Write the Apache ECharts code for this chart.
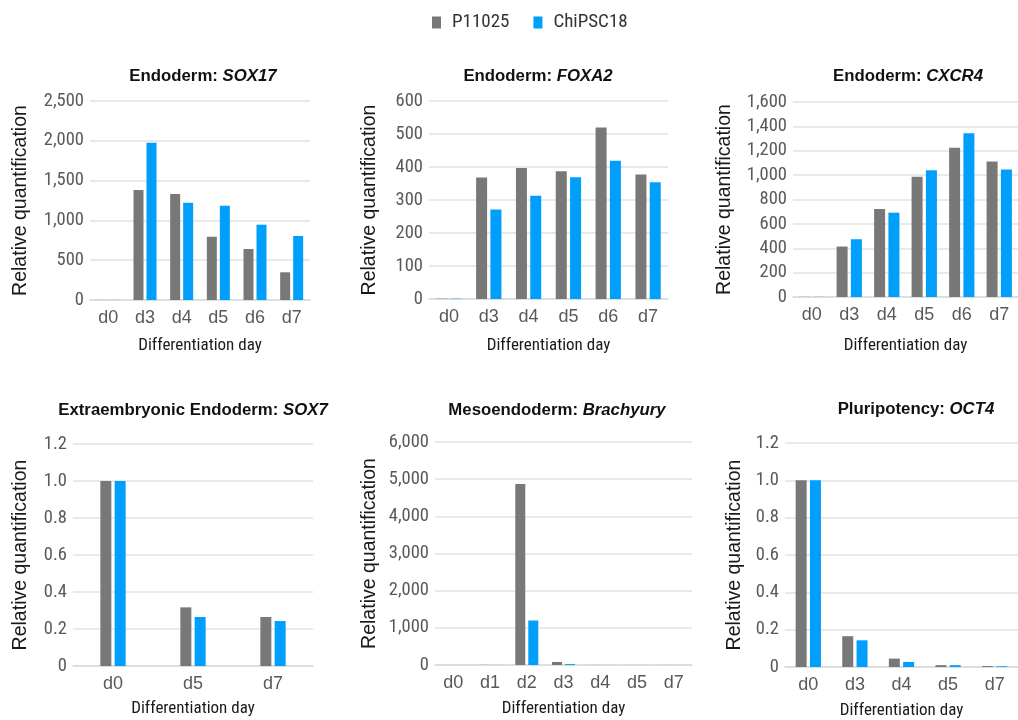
<!DOCTYPE html>
<html>
<head>
<meta charset="utf-8">
<script src="https://cdn.jsdelivr.net/npm/echarts@6/dist/echarts.min.js"></script>
<style>
html,body{margin:0;padding:0;background:#fff;}
#chart{width:1018px;height:720px;}
</style>
</head>
<body>
<div id="chart"></div>
<script>
// ---- data ----
const seriesNames = ['P11025', 'ChiPSC18'];

const sox17Days = ['d0', 'd3', 'd4', 'd5', 'd6', 'd7'];
const sox17P = [1, 1382, 1332, 795, 641, 348];
const sox17C = [1, 1976, 1223, 1185, 946, 804];
const sox17Ticks = [0, 2500, 500];

const foxa2Days = ['d0', 'd3', 'd4', 'd5', 'd6', 'd7'];
const foxa2P = [1, 368, 397, 387, 520, 377];
const foxa2C = [1, 271, 313, 369, 419, 354];
const foxa2Ticks = [0, 600, 100];

const cxcr4Days = ['d0', 'd3', 'd4', 'd5', 'd6', 'd7'];
const cxcr4P = [1, 414, 722, 987, 1224, 1112];
const cxcr4C = [1, 474, 692, 1039, 1344, 1047];
const cxcr4Ticks = [0, 1600, 200];

const sox7Days = ['d0', 'd5', 'd7'];
const sox7P = [1.0, 0.317, 0.265];
const sox7C = [1.0, 0.265, 0.243];
const sox7Ticks = [0, 1.2, 0.2];

const brachDays = ['d0', 'd1', 'd2', 'd3', 'd4', 'd5', 'd7'];
const brachP = [1, 3, 4873, 80, 2, 1, 1];
const brachC = [1, 2, 1197, 25, 1, 1, 1];
const brachTicks = [0, 6000, 1000];

const oct4Days = ['d0', 'd3', 'd4', 'd5', 'd7'];
const oct4P = [1.0, 0.165, 0.045, 0.010, 0.005];
const oct4C = [1.0, 0.143, 0.027, 0.010, 0.004];
const oct4Ticks = [0, 1.2, 0.2];

// ---- layout / style ----
const GRAY = '#787879';
const BLUE = '#009ffb';
const NARROW = "'Liberation Sans Narrow', 'Roboto Condensed', Roboto, 'Liberation Sans', sans-serif";
const SANS = "'Liberation Sans', Arial, sans-serif";

const panels = [
  {prefix: 'Endoderm: ', gene: 'SOX17', days: sox17Days, p: sox17P, c: sox17C, ticks: sox17Ticks, dec: false,
   grid: {left: 90, top: 101, width: 220, height: 199}, title: [198, 63], yGap: 59, xGap: 37, bw: 10},
  {prefix: 'Endoderm: ', gene: 'FOXA2', days: foxa2Days, p: foxa2P, c: foxa2C, ticks: foxa2Ticks, dec: false,
   grid: {left: 429, top: 101, width: 239, height: 198}, title: [533, 63], yGap: 49, xGap: 38, bw: 11},
  {prefix: 'Endoderm: ', gene: 'CXCR4', days: cxcr4Days, p: cxcr4P, c: cxcr4C, ticks: cxcr4Ticks, dec: false,
   grid: {left: 793, top: 102, width: 226, height: 195}, title: [903, 63], yGap: 58, xGap: 40, bw: 11},
  {prefix: 'Extraembryonic Endoderm: ', gene: 'SOX7', days: sox7Days, p: sox7P, c: sox7C, ticks: sox7Ticks, dec: true,
   grid: {left: 73, top: 444, width: 240, height: 222}, title: [188, 397], yGap: 42, xGap: 34, bw: 11},
  {prefix: 'Mesoendoderm: ', gene: 'Brachyury', days: brachDays, p: brachP, c: brachC, ticks: brachTicks, dec: false,
   grid: {left: 435, top: 442, width: 257, height: 223}, title: [552, 397], yGap: 55, xGap: 35, bw: 10},
  {prefix: 'Pluripotency: ', gene: 'OCT4', days: oct4Days, p: oct4P, c: oct4C, ticks: oct4Ticks, dec: true,
   grid: {left: 785, top: 443, width: 238, height: 224}, title: [911, 396], yGap: 40, xGap: 35, bw: 11}
];

const grids = [], xAxes = [], yAxes = [], series = [], titles = [];
panels.forEach((pn, i) => {
  grids.push(Object.assign({containLabel: false}, pn.grid));
  titles.push({
    text: '{a|' + pn.prefix + '}{b|' + pn.gene + '}',
    left: pn.title[0], top: pn.title[1], textAlign: 'center',
    textStyle: {
      rich: {
        a: {fontFamily: SANS, fontSize: 16.8, fontWeight: 'bold', color: '#111'},
        b: {fontFamily: SANS, fontSize: 16.8, fontWeight: 'bold', fontStyle: 'italic', color: '#111'}
      }
    }
  });
  xAxes.push({
    type: 'category', gridIndex: i, data: pn.days,
    axisTick: {show: false},
    axisLine: {lineStyle: {color: '#d9dcde', width: 1.5}},
    axisLabel: {fontFamily: SANS, fontSize: 18, color: '#595959', margin: 9},
    name: 'Differentiation day', nameLocation: 'middle', nameGap: pn.xGap,
    nameTextStyle: {fontFamily: NARROW, fontSize: 17, color: '#1a1a1a'}
  });
  yAxes.push({
    type: 'value', gridIndex: i, min: pn.ticks[0], max: pn.ticks[1], interval: pn.ticks[2],
    axisLine: {show: false}, axisTick: {show: false},
    splitLine: {lineStyle: {color: '#dfe2e4', width: 1.5}},
    axisLabel: {
      fontFamily: NARROW, fontSize: 18.5, color: '#595959', margin: 6,
      formatter: v => v === 0 ? '0' : (pn.dec ? v.toFixed(1) : v.toLocaleString('en-US'))
    },
    name: 'Relative quantification', nameLocation: 'middle', nameGap: pn.yGap,
    nameTextStyle: {fontFamily: SANS, fontSize: 19.5, color: '#1a1a1a'}
  });
  series.push({
    name: seriesNames[0], type: 'bar', xAxisIndex: i, yAxisIndex: i, data: pn.p,
    barWidth: pn.bw, barGap: '30%', itemStyle: {color: GRAY}, silent: true
  });
  series.push({
    name: seriesNames[1], type: 'bar', xAxisIndex: i, yAxisIndex: i, data: pn.c,
    barWidth: pn.bw, barGap: '30%', itemStyle: {color: BLUE}, silent: true
  });
});

const chart = echarts.init(document.getElementById('chart'), null, {renderer: 'canvas'});
chart.setOption({
  animation: false,
  backgroundColor: '#fff',
  title: titles,
  legend: {
    data: seriesNames, top: 8, left: 427, icon: 'rect',
    itemWidth: 9, itemHeight: 12, itemGap: 24,
    textStyle: {fontFamily: NARROW, fontSize: 19, color: '#333', padding: [0, 0, 0, 6]}
  },
  grid: grids, xAxis: xAxes, yAxis: yAxes, series: series
});
</script>
</body>
</html>
